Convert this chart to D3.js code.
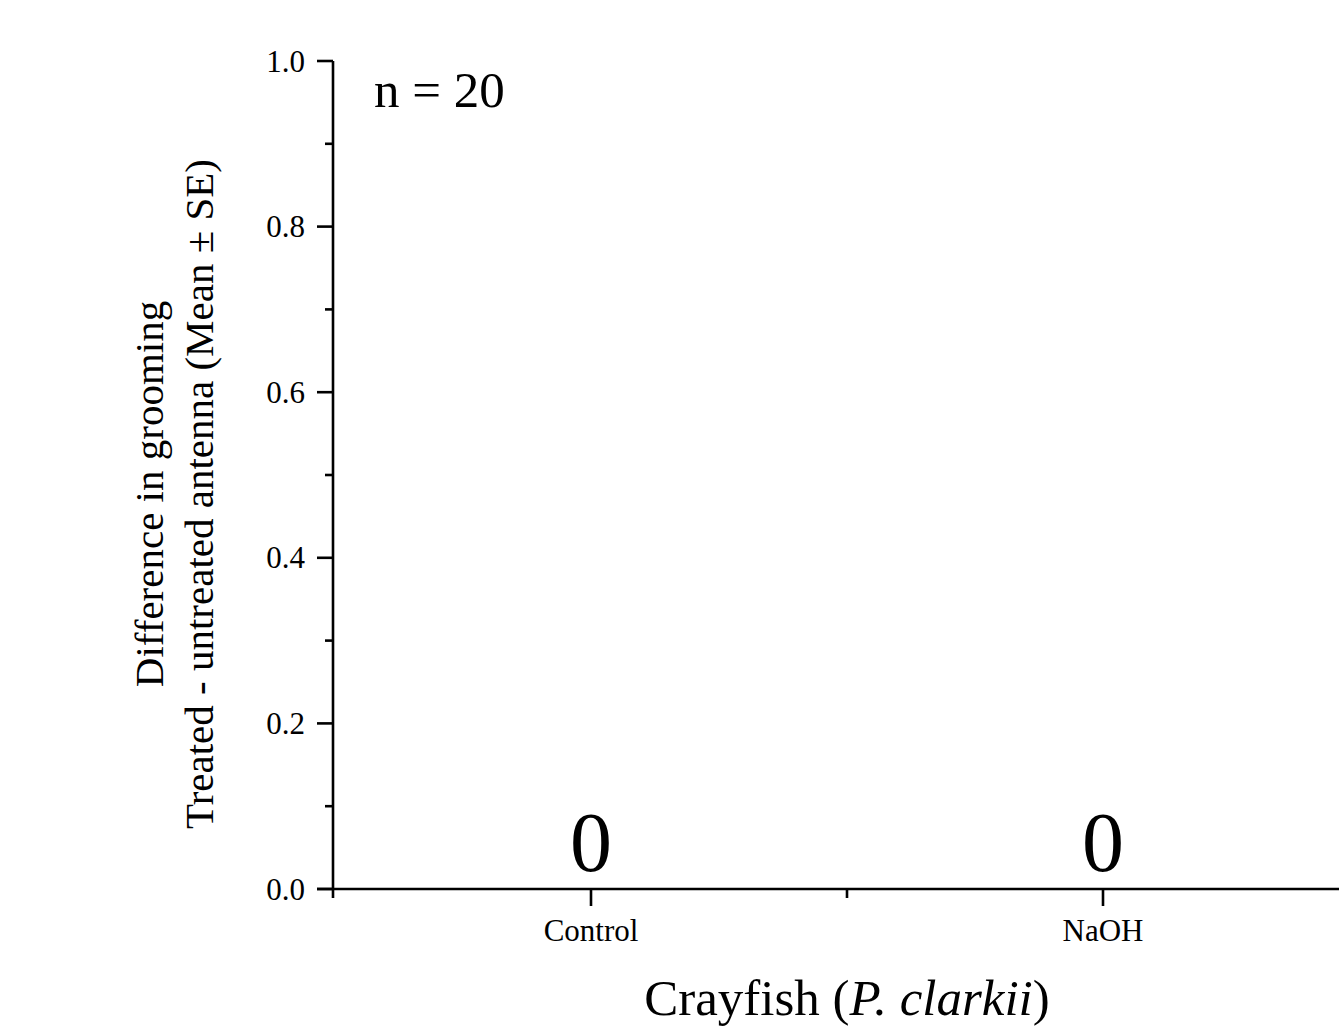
<!DOCTYPE html>
<html>
<head>
<meta charset="utf-8">
<script src="https://cdn.jsdelivr.net/npm/d3@7"></script>
<style>
  html, body { margin: 0; padding: 0; background: #fff; }
  svg { display: block; font-family: "Liberation Serif", "Times New Roman", serif; }
</style>
</head>
<body>
<svg id="chart" width="1339" height="1033"></svg>
<script>
// Grooming difference (treated - untreated antenna), crayfish P. clarkii
const categories = ["Control", "NaOH"];
const meanValues = [0, 0];
const valueLabels = ["0", "0"];
const yTicks = [0.0, 0.2, 0.4, 0.6, 0.8, 1.0];
const yMinorTicks = [0.1, 0.3, 0.5, 0.7, 0.9];
const sampleNote = "n = 20";

const svg = d3.select("#chart");
const ink = "#000";
const axisWidth = 2.6;

// Category positions 1..n, with half-unit margins on either side
const x = d3.scaleLinear().domain([0.5, categories.length + 0.5]).range([335, 1359]);
const y = d3.scaleLinear().domain([0, 1]).range([889, 61]);
const x0 = x(0.5) - 2;

const g = svg.append("g");

// Y axis line
g.append("line")
  .attr("x1", x0).attr("x2", x0)
  .attr("y1", y(1)).attr("y2", y(0) + 9)
  .attr("stroke", ink).attr("stroke-width", axisWidth);

// Y major ticks + labels
g.selectAll(".ymaj").data(yTicks).join("line")
  .attr("x1", x0 - 16).attr("x2", x0)
  .attr("y1", d => y(d)).attr("y2", d => y(d))
  .attr("stroke", ink).attr("stroke-width", axisWidth);
g.selectAll(".ylab").data(yTicks).join("text")
  .attr("x", x0 - 28).attr("y", d => y(d))
  .attr("text-anchor", "end").attr("dominant-baseline", "central")
  .attr("font-size", 31).attr("fill", ink)
  .text(d => d3.format(".1f")(d));
g.selectAll(".ymin").data(yMinorTicks).join("line")
  .attr("x1", x0 - 8).attr("x2", x0)
  .attr("y1", d => y(d)).attr("y2", d => y(d))
  .attr("stroke", ink).attr("stroke-width", axisWidth);

// X axis line
g.append("line")
  .attr("x1", x0 - 16).attr("x2", 1339)
  .attr("y1", y(0)).attr("y2", y(0))
  .attr("stroke", ink).attr("stroke-width", axisWidth);

// X major ticks at categories, minor ticks between
const xMinor = d3.range(1.5, categories.length, 1);
g.selectAll(".xmaj").data(categories).join("line")
  .attr("x1", (d, i) => x(i + 1)).attr("x2", (d, i) => x(i + 1))
  .attr("y1", y(0)).attr("y2", y(0) + 17)
  .attr("stroke", ink).attr("stroke-width", axisWidth);
g.selectAll(".xmin").data(xMinor).join("line")
  .attr("x1", d => x(d)).attr("x2", d => x(d))
  .attr("y1", y(0)).attr("y2", y(0) + 9)
  .attr("stroke", ink).attr("stroke-width", axisWidth);
g.selectAll(".xlab").data(categories).join("text")
  .attr("x", (d, i) => x(i + 1)).attr("y", 941)
  .attr("text-anchor", "middle")
  .attr("font-size", 31).attr("fill", ink)
  .text(d => d);

// Mean value labels sitting on the bars' (zero) height
g.selectAll(".vlab").data(meanValues).join("text")
  .attr("x", (d, i) => x(i + 1)).attr("y", d => y(d) - 18)
  .attr("text-anchor", "middle")
  .attr("font-size", 84).attr("fill", ink)
  .text((d, i) => valueLabels[i]);

// Sample size note
g.append("text")
  .attr("x", 374).attr("y", 107)
  .attr("font-size", 51).attr("fill", ink)
  .text(sampleNote);

// X axis title
const xt = g.append("text")
  .attr("x", (x(0.5) + x(categories.length + 0.5)) / 2).attr("y", 1015)
  .attr("text-anchor", "middle")
  .attr("font-size", 51).attr("fill", ink);
xt.append("tspan").text("Crayfish (");
xt.append("tspan").attr("font-style", "italic").text("P. clarkii");
xt.append("tspan").text(")");

// Y axis title (two lines)
const yMid = 494;
const yt = g.append("text")
  .attr("transform", `translate(163,${yMid}) rotate(-90)`)
  .attr("text-anchor", "middle")
  .attr("font-size", 41).attr("fill", ink);
yt.append("tspan").attr("x", 0).attr("y", 0).text("Difference in grooming");
yt.append("tspan").attr("x", 0).attr("y", 50).text("Treated - untreated antenna (Mean \u00B1 SE)");
</script>
</body>
</html>
